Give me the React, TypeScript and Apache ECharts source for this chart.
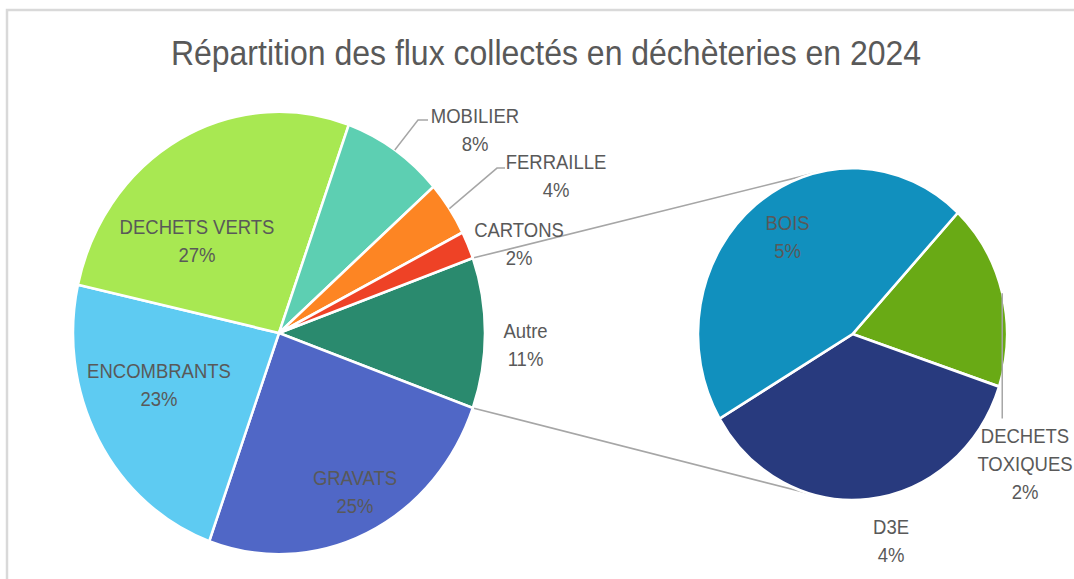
import React, { useEffect, useRef } from "react";
import * as echarts from "echarts";

// ---- Data (percent of total collected) ----
const mainCategories = ["Autre", "GRAVATS", "ENCOMBRANTS", "DECHETS VERTS", "MOBILIER", "FERRAILLE", "CARTONS"];
const mainValues = [11, 25, 23, 27, 8, 4, 2];
const detailCategories = ["DECHETS TOXIQUES", "D3E", "BOIS"];
const detailValues = [2, 4, 5];
const titleText = "Répartition des flux collectés en déchèteries en 2024";

// ---- Styles / layout ----
const mainColors = ["#2a8a6e", "#5067c6", "#5ecbf2", "#a8e852", "#5dcfb2", "#fd8523", "#ee4226"];
const detailColors = ["#69aa15", "#283a7e", "#1190be"];
const W = 1074;
const H = 539;
const K = 579 / H; // vertical stretch of the reference picture
const FONT = "'Liberation Sans', Arial, sans-serif";
const TEXT = "#595959";
const LINE = "#a6a6a6";
const MAIN_C = [279, 310];
const MAIN_R = 206;
const DET_C = [852.5, 311];
const DET_R = 154.5;
const DET_START = 47;

const labelPos: Record<string, number[]> = {
  "DECHETS VERTS": [197, 225],
  ENCOMBRANTS: [159, 359],
  GRAVATS: [355, 458],
  Autre: [525.5, 321.5],
  CARTONS: [519, 227],
  FERRAILLE: [556, 164],
  MOBILIER: [475, 121],
  BOIS: [787.5, 221],
  D3E: [891, 503.5],
  "DECHETS TOXIQUES": [1025, 432.5],
};
const insideLabels = ["DECHETS VERTS", "ENCOMBRANTS", "GRAVATS", "BOIS"];
const leaderElbows: Record<string, number[][]> = {
  MOBILIER: [[418, 111.7], [428, 111.7]],
  FERRAILLE: [[497, 156.4], [505, 156.4]],
};
const DT_LINE_END_Y = 389.5;

function compassMids(values: number[], startAngle: number) {
  const total = values.reduce((a, b) => a + b, 0);
  let cum = 0;
  return values.map((v) => {
    const mid = 90 - startAngle + ((cum + v / 2) / total) * 360;
    cum += v;
    return mid;
  });
}
function edgePoint(c: number[], r: number, compassDeg: number) {
  const t = (compassDeg * Math.PI) / 180;
  return [c[0] + r * Math.sin(t), c[1] - r * Math.cos(t)];
}
function tangent(p: number[], c: number[], r: number, side: number) {
  const dx = c[0] - p[0];
  const dy = c[1] - p[1];
  const d = Math.sqrt(dx * dx + dy * dy);
  const a = Math.atan2(dy, dx) + side * Math.asin(r / d);
  const L = Math.sqrt(d * d - r * r);
  return [p[0] + L * Math.cos(a), p[1] + L * Math.sin(a)];
}

export default function App() {
  const ref = useRef<HTMLDivElement>(null);
  useEffect(() => {
    document.body.style.margin = "0";
    if (!ref.current) return;
    const chart = echarts.init(ref.current, undefined, { renderer: "svg" });

    const total = mainValues.reduce((a, b) => a + b, 0);
    const mainStart = ((mainValues[0] / total) * 360) / 2;
    const mainMids = compassMids(mainValues, mainStart);
    const detMids = compassMids(detailValues, DET_START);

    // connector lines from the "Autre" slice edges to the secondary pie
    const autreTop = edgePoint(MAIN_C, MAIN_R, 90 - mainStart);
    const autreBot = edgePoint(MAIN_C, MAIN_R, 90 + mainStart);
    const tTop = tangent(autreTop, DET_C, DET_R, -1);
    const tBot = tangent(autreBot, DET_C, DET_R, 1);

    // leader lines
    const leaders: any[] = [];
    mainCategories.forEach((name, i) => {
      if (leaderElbows[name]) {
        const s = edgePoint(MAIN_C, MAIN_R, mainMids[i]);
        leaders.push([s, ...leaderElbows[name]]);
      }
    });
    detailCategories.forEach((name, i) => {
      if (name === "DECHETS TOXIQUES") {
        const s = edgePoint(DET_C, DET_R, detMids[i]);
        leaders.push([s, [s[0], DT_LINE_END_Y]]);
      }
    });

    const makeItem = (name: string, value: number, color: string) => ({
      name,
      value,
      itemStyle: { color },
      label: { position: insideLabels.includes(name) ? "inside" : "outside" },
      labelLine: { show: false },
    });

    const layoutFor = (names: string[]) => (params: any) => {
      const pos = labelPos[names[params.dataIndex]];
      return { x: pos[0], y: pos[1], align: "center", verticalAlign: "middle" };
    };

    const commonLabel = {
      show: true,
      formatter: "{b}\n{c}%",
      color: TEXT,
      fontFamily: FONT,
      fontSize: 18.5,
      lineHeight: 26,
      align: "center",
    };
    const dtLabel = (name: string) => name.replace("DECHETS TOXIQUES", "DECHETS\nTOXIQUES");

    chart.setOption({
      animation: false,
      backgroundColor: "#ffffff",
      graphic: [
        {
          type: "rect",
          shape: { x: 7, y: 9.3, width: 1300, height: 800 },
          style: { fill: "none", stroke: "#d9d9d9", lineWidth: 2.5 },
          silent: true,
        },
        {
          type: "text",
          x: 546,
          y: 49,
          style: {
            text: titleText,
            fill: TEXT,
            font: `32px ${FONT}`,
            textAlign: "center",
            textVerticalAlign: "middle",
          },
          silent: true,
        },
        {
          type: "line",
          shape: { x1: autreTop[0], y1: autreTop[1], x2: tTop[0], y2: tTop[1] },
          style: { stroke: LINE, lineWidth: 1.5 },
          silent: true,
        },
        {
          type: "line",
          shape: { x1: autreBot[0], y1: autreBot[1], x2: tBot[0], y2: tBot[1] },
          style: { stroke: LINE, lineWidth: 1.5 },
          silent: true,
        },
        ...leaders.map((pts) => ({
          type: "polyline",
          z: 100,
          shape: { points: pts },
          style: { stroke: LINE, lineWidth: 1.5, fill: "none" },
          silent: true,
        })),
      ],
      series: [
        {
          type: "pie",
          center: MAIN_C,
          radius: MAIN_R,
          startAngle: mainStart,
          clockwise: true,
          avoidLabelOverlap: false,
          silent: true,
          itemStyle: { borderColor: "#ffffff", borderWidth: 2.5 },
          label: { ...commonLabel },
          labelLayout: layoutFor(mainCategories),
          data: mainCategories.map((n, i) => makeItem(n, mainValues[i], mainColors[i])),
        },
        {
          type: "pie",
          center: DET_C,
          radius: DET_R,
          startAngle: DET_START,
          clockwise: true,
          avoidLabelOverlap: false,
          silent: true,
          itemStyle: { borderColor: "#ffffff", borderWidth: 2.5 },
          label: { ...commonLabel, formatter: (p: any) => `${dtLabel(p.name)}\n${p.value}%` },
          labelLayout: layoutFor(detailCategories),
          data: detailCategories.map((n, i) => makeItem(n, detailValues[i], detailColors[i])),
        },
      ],
    });
    return () => chart.dispose();
  }, []);

  return (
    <div style={{ width: W, height: 579, overflow: "hidden", position: "relative" }}>
      <div
        ref={ref}
        style={{ width: W, height: H, transform: `scaleY(${K})`, transformOrigin: "0 0" }}
      />
    </div>
  );
}
